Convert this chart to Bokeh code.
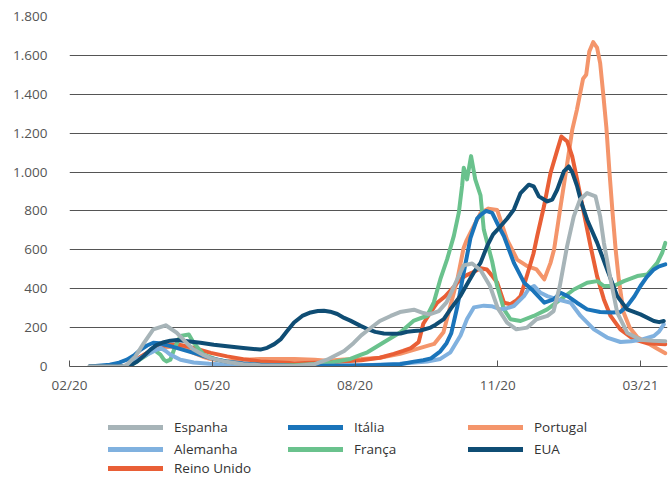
from bokeh.plotting import figure
from bokeh.models import Range1d, FixedTicker, Legend, LegendItem
from bokeh.layouts import column
from bokeh.embed import file_html
from bokeh.resources import INLINE

# ---- data (day index from the first tick, value) ----
tick_days = [0, 92, 184, 276, 368]
tick_labels = ["02/20", "05/20", "08/20", "11/20", "03/21"]
y_ticks = [0, 200, 400, 600, 800, 1000, 1200, 1400, 1600, 1800]
y_labels = ["0", "200", "400", "600", "800", "1.000", "1.200", "1.400", "1.600", "1.800"]

espanha_d = [13, 34, 37, 42.5, 48, 54, 62, 69, 75, 80, 86, 91, 101, 112, 123, 145, 158, 166, 171, 177, 183, 188, 192, 200, 207, 213, 222, 228, 232, 238, 243, 248, 254, 259.5, 265, 271, 276, 282, 288, 295, 301, 308, 312, 316, 320.7, 325, 329, 333.6, 339, 342, 344.4, 348.7, 353, 359.4, 368, 376, 384]
espanha_v = [0, 0, 9, 52, 122, 191, 212, 174, 125, 87, 60, 43, 24, 12, 7, 3, 12, 35, 55, 80, 120, 160, 185, 234, 260, 280, 292, 275, 268, 285, 330, 415, 520, 530, 495, 414, 300, 226, 191, 200, 243, 260, 285, 414, 619, 772, 858, 892, 875, 772, 636, 448, 277, 174, 137, 132, 130]

italia_d = [13, 26, 32, 37, 42, 46, 50, 54, 58, 61, 65, 69, 75, 80, 86, 91, 101, 112, 123, 145, 170, 200, 213, 222, 228, 233, 239, 243, 246, 250, 254, 258.4, 262.7, 265, 268.5, 272.4, 276.7, 280, 286.4, 293, 299, 306, 312, 316.5, 321, 327, 333.6, 342, 350, 355, 359.4, 364, 368, 372, 376.6, 380, 384]
italia_v = [0, 9, 20, 35, 60, 87, 108, 122, 120, 113, 105, 96, 82, 70, 55, 43, 26, 15, 9, 3, 4, 8, 12, 25, 32, 42, 78, 120, 170, 310, 480, 660, 760, 780, 800, 790, 720, 670, 533, 431, 388, 328, 345, 379, 362, 328, 294, 280, 278, 280, 311, 360, 414, 460, 499, 515, 525]

portugal_d = [13, 35, 39, 45, 50, 55, 59, 64, 69, 75, 80, 86, 91, 101, 112, 123, 135, 145, 158, 166, 177, 188, 200, 213, 224, 235, 241, 245.5, 250, 254, 256, 260.6, 265, 270, 275.6, 282, 288.5, 295, 301, 306, 310, 312.3, 316.5, 320.8, 324, 327, 331, 333, 335, 337.5, 340, 342, 344, 346, 348, 350, 352, 354, 357, 361, 366, 372, 378, 384]
portugal_v = [0, 0, 17, 45, 70, 88, 96, 100, 104, 90, 70, 50, 38, 26, 35, 38, 38, 38, 35, 30, 36, 39, 45, 65, 91, 116, 176, 313, 449, 610, 650, 723, 790, 812, 805, 653, 550, 516, 499, 448, 533, 602, 824, 1046, 1217, 1320, 1480, 1500, 1620, 1668, 1640, 1560, 1400, 1230, 1000, 790, 600, 448, 280, 200, 150, 123, 95, 68]

alemanha_d = [13, 36, 41.5, 47, 52.2, 58.6, 62, 65, 71.5, 80, 90, 101.6, 123, 145, 188, 213, 230.5, 239, 245.5, 252, 256.2, 260.6, 267, 272, 277.8, 282, 286.4, 292.9, 296, 299.4, 303.6, 307.9, 314.4, 323, 329.4, 338, 346.5, 355.1, 362, 368, 376.6, 380, 383]
alemanha_v = [0, 0, 26, 50, 70, 96, 80, 61, 35, 21, 14, 9, 5, 3, 5, 14, 26, 39, 73, 159, 244, 304, 313, 310, 294, 300, 311, 362, 400, 414, 379, 362, 345, 328, 260, 191, 149, 126, 130, 137, 157, 180, 217]

franca_d = [13, 38, 43.6, 49, 54.3, 58.6, 60.8, 62.5, 65, 68, 71.5, 76.9, 80, 86.4, 95, 112, 145, 166, 181, 188, 192, 202.6, 213.3, 222, 230.5, 234.8, 239, 243.4, 247.7, 250.9, 253, 254.1, 256.2, 258.8, 261.5, 264.9, 267, 269.1, 272.4, 275.6, 280, 284.2, 290.7, 299.2, 307.9, 316.5, 325.1, 333.6, 340.1, 344.4, 350.8, 357.3, 365.9, 372.3, 378.8, 382, 384]
franca_v = [0, 0, 26, 55, 87, 61, 35, 26, 35, 100, 157, 165, 122, 61, 35, 9, 7, 17, 39, 61, 73, 125, 176, 236, 261, 330, 449, 552, 672, 791, 928, 1022, 962, 1082, 962, 880, 704, 640, 540, 414, 294, 243, 234, 260, 294, 345, 396, 431, 439, 414, 414, 439, 465, 473, 533, 585, 636]

eua_d = [13, 38, 43.6, 48, 52.2, 56, 60.8, 65, 69.4, 76, 84.4, 93, 101.6, 112, 123, 127.4, 132, 136, 140, 144.7, 150, 155.4, 160, 164, 168, 172.6, 177, 181, 187.6, 192, 197, 202.6, 208, 213.3, 217.6, 222, 226.2, 232.7, 236, 241.2, 246, 252, 256, 260.6, 264.9, 269.2, 273, 277.8, 282, 286.4, 290.7, 296, 299.2, 302.5, 307.9, 311.1, 314.3, 318.6, 321.8, 324, 327.2, 330, 333.6, 340.1, 346.5, 353, 359.4, 368, 376.6, 380, 383]
eua_v = [0, 0, 26, 55, 87, 110, 125, 133, 136, 130, 122, 112, 104, 95, 87, 96, 115, 139, 180, 226, 260, 278, 285, 287, 282, 270, 250, 236, 209, 193, 178, 170, 168, 170, 179, 183, 185, 200, 215, 244, 300, 364, 420, 484, 533, 620, 680, 721, 760, 807, 892, 935, 926, 875, 849, 858, 909, 1003, 1029, 1000, 926, 840, 755, 636, 499, 362, 294, 268, 234, 228, 234]

reino_d = [13, 36, 41.5, 46, 50, 54, 58.6, 64, 69.4, 75, 80, 86, 91, 101.6, 112, 123, 145, 166, 188, 200, 209, 215, 220, 225, 228, 232.7, 237, 242, 247.7, 252, 256, 260, 265, 269, 272, 275.6, 280, 284.2, 288, 290.7, 293, 296, 299, 301.4, 305.8, 310, 314.4, 317, 320.8, 324, 327.2, 331.5, 335.8, 340, 344.4, 348.7, 355, 363.7, 372, 384]
reino_v = [0, 0, 26, 50, 70, 90, 104, 110, 113, 105, 96, 82, 70, 52, 38, 26, 17, 21, 32, 45, 65, 80, 95, 125, 220, 279, 328, 360, 410, 449, 470, 485, 505, 499, 470, 432, 328, 320, 340, 362, 420, 499, 580, 670, 824, 995, 1114, 1183, 1157, 1080, 960, 790, 619, 465, 345, 260, 191, 140, 120, 115]

FONT = "Open Sans"
TXT = "#555555"
FS = "13.5px"

p = figure(width=670, height=405, output_backend="svg", toolbar_location=None,
           x_range=Range1d(0, 385.4), y_range=Range1d(0, 1800),
           min_border_left=69, min_border_right=3, min_border_top=16, min_border_bottom=39)
p.outline_line_color = None
p.background_fill_color = "white"
p.border_fill_color = "white"

p.xgrid.grid_line_color = None
p.ygrid.grid_line_color = "#555555"
p.ygrid.grid_line_width = 1
p.ygrid.ticker = FixedTicker(ticks=y_ticks)

p.yaxis.ticker = FixedTicker(ticks=y_ticks)
p.yaxis.major_label_overrides = {t: l for t, l in zip(y_ticks, y_labels)}
p.yaxis.axis_line_color = None
p.yaxis.major_tick_line_color = None
p.yaxis.minor_tick_line_color = None
p.yaxis.major_label_standoff = 16
p.yaxis.major_label_text_font = FONT
p.yaxis.major_label_text_font_size = FS
p.yaxis.major_label_text_color = TXT

p.xaxis.ticker = FixedTicker(ticks=tick_days)
p.xaxis.major_label_overrides = {t: l for t, l in zip(tick_days, tick_labels)}
p.xaxis.axis_line_color = "#555555"
p.xaxis.major_tick_line_color = "#555555"
p.xaxis.major_tick_in = 6
p.xaxis.major_tick_out = 0
p.xaxis.minor_tick_line_color = None
p.xaxis.major_label_standoff = 9
p.xaxis.major_label_text_font = FONT
p.xaxis.major_label_text_font_size = FS
p.xaxis.major_label_text_color = TXT

series = {
    "Espanha": (espanha_d, espanha_v, "#a7b4b8"),
    "Itália": (italia_d, italia_v, "#1a74ba"),
    "Portugal": (portugal_d, portugal_v, "#f4956b"),
    "Alemanha": (alemanha_d, alemanha_v, "#80b1df"),
    "França": (franca_d, franca_v, "#6ac28d"),
    "EUA": (eua_d, eua_v, "#0f4d74"),
    "Reino Unido": (reino_d, reino_v, "#e95f36"),
}
draw_order = ["Portugal", "Reino Unido", "França", "Alemanha", "Itália", "EUA", "Espanha"]
for name in draw_order:
    d, v, c = series[name]
    p.line(d, v, line_color=c, line_width=4, line_cap="round", line_join="round")

# ---- legend strip: a second figure whose view window holds no data (only the key is seen) ----
LH = 71
lg = figure(width=670, height=LH, output_backend="svg", toolbar_location=None,
            x_range=Range1d(-20, -10), y_range=Range1d(-20, -10),
            x_axis_type=None, y_axis_type=None,
            min_border_left=0, min_border_right=0, min_border_top=0, min_border_bottom=0)
lg.outline_line_color = None
lg.grid.grid_line_color = None
swatch = {}
for name in series:
    d, v, c = series[name]
    swatch[name] = lg.line(d, v, line_color=c, line_width=5, line_cap="round")

common = dict(glyph_width=55, glyph_height=16, label_height=16, label_width=110,
              label_standoff=11, spacing=4, padding=0, margin=0,
              border_line_color=None, background_fill_alpha=0,
              label_text_font=FONT, label_text_font_size=FS,
              label_text_color="#333333")
rows_two = ["Espanha", "Alemanha", "Itália", "França", "Portugal", "EUA"]
legA = Legend(items=[LegendItem(label=n, renderers=[swatch[n]]) for n in rows_two],
              ncols=3, location=(39, LH - 17 - 36), **common)
legB = Legend(items=[LegendItem(label="Reino Unido", renderers=[swatch["Reino Unido"]])],
              location=(39, LH - 56 - 16), **common)
lg.add_layout(legA, "center")
lg.add_layout(legB, "center")

layout = column(p, lg, spacing=0)
open("out.html", "w").write(file_html(layout, INLINE))
